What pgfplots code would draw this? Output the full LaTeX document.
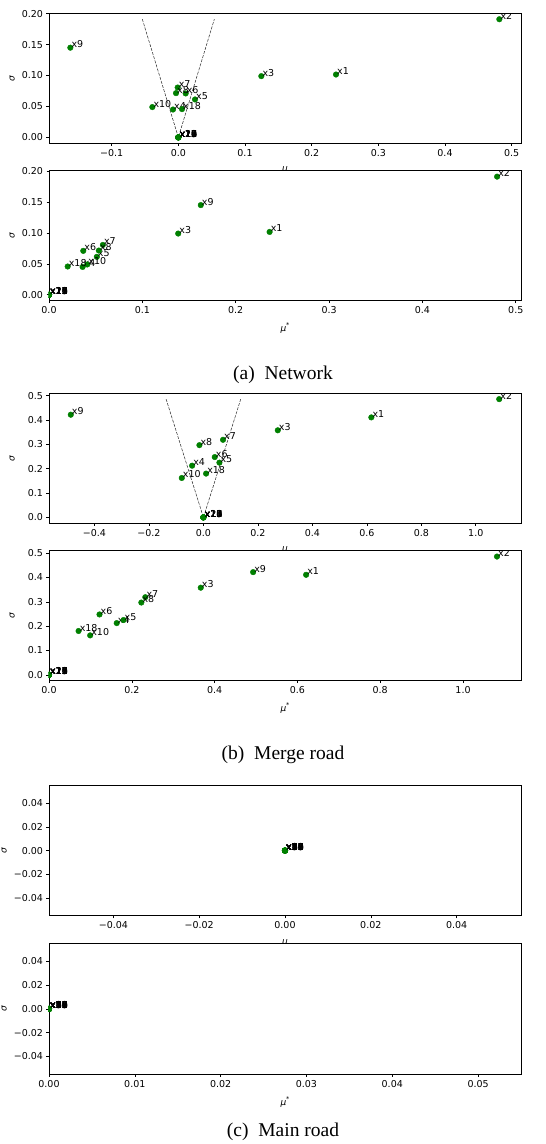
\documentclass[border=0pt]{standalone}
\usepackage{fontspec}
\setmainfont{DejaVu Sans}
\newfontfamily\capfont{Liberation Serif}
\usepackage{pgfplots}
\pgfplotsset{compat=1.18}
\definecolor{mplgreen}{HTML}{008000}

\pgfplotsset{
  morris/.style={
    width=472pt, height=130pt, scale only axis,
    scaled ticks=false,
    axis background/.style={fill=white},
    tick align=outside, xtick pos=bottom, ytick pos=left,
    major tick length=2.5pt,
    tick style={black, line width=0.6pt},
    axis line style={line width=0.8pt},
    ticklabel style={font=\fontsize{9.5}{11}\selectfont},
    xlabel style={at={(axis description cs:0.5,-0.208)}, anchor=center, font=\fontsize{9}{10}\selectfont},
    ylabel style={at={(axis description cs:-0.078,0.5)}, anchor=center, font=\fontsize{9}{10}\selectfont},
    clip marker paths=true,
  },
  pts/.style={only marks, mark=*, mark size=2.8pt, mplgreen,
    nodes near coords, point meta=explicit symbolic,
    every node near coord/.append style={anchor=base west, inner sep=0pt, xshift=1pt, text=black, font=\fontsize{9.5}{11}\selectfont}},
  dash/.style={black!85, line width=0.5pt, dash pattern=on 3pt off 1.3pt},
}

\begin{document}
\begin{tikzpicture}
\path[use as bounding box] (0,0) rectangle (546pt,-1144pt);

% ---------- (a) Network, mu ----------
\begin{axis}[morris, at={(49pt,-13.3pt)}, anchor=north west,
  xmin=-0.194, xmax=0.514, ymin=-0.0096, ymax=0.2006,
  xtick={-0.1,0,0.1,0.2,0.3,0.4,0.5},
  xticklabels={−0.1,0.0,0.1,0.2,0.3,0.4,0.5},
  ytick={0,0.05,0.1,0.15,0.2},
  yticklabels={0.00,0.05,0.10,0.15,0.20},
  xlabel={\textit{μ}}, ylabel={\textit{σ}}]
\addplot[dash] coordinates {(-0.054,0.191) (0,0) (0.054,0.191)};
\addplot[pts] table[x=x,y=y,meta=l] {
x y l
0.2365 0.1016 x1
0.4815 0.1910 x2
0.1245 0.0990 x3
-0.0080 0.0450 x4
0.0250 0.0613 x5
0.0110 0.0710 x6
-0.0010 0.0806 x7
-0.0035 0.0715 x8
-0.1620 0.1450 x9
-0.0390 0.0490 x10
0 0 x11
0 0 x12
0 0 x13
0 0 x14
0 0 x15
0 0 x16
0 0 x17
0.0055 0.0457 x18
0 0 x19
0 0 x20
0 0 x21
};
\end{axis}

% ---------- (a) Network, mu* ----------
\begin{axis}[morris, at={(49pt,-170.7pt)}, anchor=north west,
  xmin=0, xmax=0.5056, ymin=-0.0096, ymax=0.2006,
  xtick={0,0.1,0.2,0.3,0.4,0.5},
  xticklabels={0.0,0.1,0.2,0.3,0.4,0.5},
  ytick={0,0.05,0.1,0.15,0.2},
  yticklabels={0.00,0.05,0.10,0.15,0.20},
  xlabel={\textit{μ}\raisebox{0.8ex}{\fontsize{6.5}{7}\selectfont *}}, ylabel={\textit{σ}}]
\addplot[pts] table[x=x,y=y,meta=l] {
x y l
0.2363 0.1016 x1
0.4800 0.1910 x2
0.1384 0.0990 x3
0.0360 0.0450 x4
0.0512 0.0613 x5
0.0367 0.0710 x6
0.0577 0.0806 x7
0.0534 0.0715 x8
0.1626 0.1450 x9
0.0410 0.0490 x10
0 0 x11
0 0 x12
0 0 x13
0 0 x14
0 0 x15
0 0 x16
0 0 x17
0.0200 0.0457 x18
0 0 x19
0 0 x20
0 0 x21
};
\end{axis}
\node[anchor=base, font=\capfont\fontsize{19.5}{22}\selectfont] at (283pt,-379.3pt) {(a)\enspace Network};

% ---------- (b) Merge road, mu ----------
\begin{axis}[morris, at={(49pt,-393.3pt)}, anchor=north west,
  xmin=-0.567, xmax=1.166, ymin=-0.0243, ymax=0.510,
  xtick={-0.4,-0.2,0,0.2,0.4,0.6,0.8,1.0},
  xticklabels={−0.4,−0.2,0.0,0.2,0.4,0.6,0.8,1.0},
  ytick={0,0.1,0.2,0.3,0.4,0.5},
  yticklabels={0.0,0.1,0.2,0.3,0.4,0.5},
  xlabel={\textit{μ}}, ylabel={\textit{σ}}]
\addplot[dash] coordinates {(-0.137,0.486) (0,0) (0.137,0.486)};
\addplot[pts] table[x=x,y=y,meta=l] {
x y l
0.6165 0.411 x1
1.0860 0.486 x2
0.2730 0.358 x3
-0.0416 0.2125 x4
0.0587 0.225 x5
0.0416 0.248 x6
0.0720 0.319 x7
-0.0147 0.297 x8
-0.4870 0.422 x9
-0.0795 0.162 x10
0 0 x11
0 0 x12
0 0 x13
0 0 x14
0 0 x15
0 0 x16
0 0 x17
0.0098 0.180 x18
0 0 x19
0 0 x20
0 0 x21
};
\end{axis}

% ---------- (b) Merge road, mu* ----------
\begin{axis}[morris, at={(49pt,-550.7pt)}, anchor=north west,
  xmin=0, xmax=1.14, ymin=-0.0243, ymax=0.510,
  xtick={0,0.2,0.4,0.6,0.8,1.0},
  xticklabels={0.0,0.2,0.4,0.6,0.8,1.0},
  ytick={0,0.1,0.2,0.3,0.4,0.5},
  yticklabels={0.0,0.1,0.2,0.3,0.4,0.5},
  xlabel={\textit{μ}\raisebox{0.8ex}{\fontsize{6.5}{7}\selectfont *}}, ylabel={\textit{σ}}]
\addplot[pts] table[x=x,y=y,meta=l] {
x y l
0.6210 0.411 x1
1.0820 0.486 x2
0.3665 0.358 x3
0.1636 0.2125 x4
0.1800 0.225 x5
0.1220 0.248 x6
0.2326 0.319 x7
0.2230 0.297 x8
0.4930 0.422 x9
0.0994 0.162 x10
0 0 x11
0 0 x12
0 0 x13
0 0 x14
0 0 x15
0 0 x16
0 0 x17
0.0714 0.180 x18
0 0 x19
0 0 x20
0 0 x21
};
\end{axis}
\node[anchor=base, font=\capfont\fontsize{19.5}{22}\selectfont] at (283pt,-759pt) {(b)\enspace Merge road};

% ---------- (c) Main road, mu ----------
\begin{axis}[morris, at={(49pt,-785.3pt)}, anchor=north west, height=130.5pt,
  xmin=-0.055, xmax=0.055, ymin=-0.055, ymax=0.055,
  xtick={-0.04,-0.02,0,0.02,0.04},
  xticklabels={−0.04,−0.02,0.00,0.02,0.04},
  ytick={-0.04,-0.02,0,0.02,0.04},
  yticklabels={−0.04,−0.02,0.00,0.02,0.04},
  ylabel style={at={(axis description cs:-0.095,0.5)}},
  xlabel={\textit{μ}}, ylabel={\textit{σ}}]
\addplot[pts] table[x=x,y=y,meta=l] {
x y l
0 0 x1
0 0 x2
0 0 x3
0 0 x4
0 0 x5
0 0 x6
0 0 x7
0 0 x8
0 0 x9
0 0 x10
0 0 x11
0 0 x12
0 0 x13
0 0 x14
0 0 x15
0 0 x16
0 0 x17
0 0 x18
0 0 x19
0 0 x20
0 0 x21
};
\end{axis}

% ---------- (c) Main road, mu* ----------
\begin{axis}[morris, at={(49pt,-943.3pt)}, anchor=north west, height=131pt,
  xmin=0, xmax=0.055, ymin=-0.055, ymax=0.055,
  xtick={0,0.01,0.02,0.03,0.04,0.05},
  xticklabels={0.00,0.01,0.02,0.03,0.04,0.05},
  ytick={-0.04,-0.02,0,0.02,0.04},
  yticklabels={−0.04,−0.02,0.00,0.02,0.04},
  ylabel style={at={(axis description cs:-0.095,0.5)}},
  xlabel={\textit{μ}\raisebox{0.8ex}{\fontsize{6.5}{7}\selectfont *}}, ylabel={\textit{σ}}]
\addplot[pts] table[x=x,y=y,meta=l] {
x y l
0 0 x1
0 0 x2
0 0 x3
0 0 x4
0 0 x5
0 0 x6
0 0 x7
0 0 x8
0 0 x9
0 0 x10
0 0 x11
0 0 x12
0 0 x13
0 0 x14
0 0 x15
0 0 x16
0 0 x17
0 0 x18
0 0 x19
0 0 x20
0 0 x21
};
\end{axis}
\node[anchor=base, font=\capfont\fontsize{19.5}{22}\selectfont] at (283pt,-1136.7pt) {(c)\enspace Main road};
\end{tikzpicture}
\end{document}
